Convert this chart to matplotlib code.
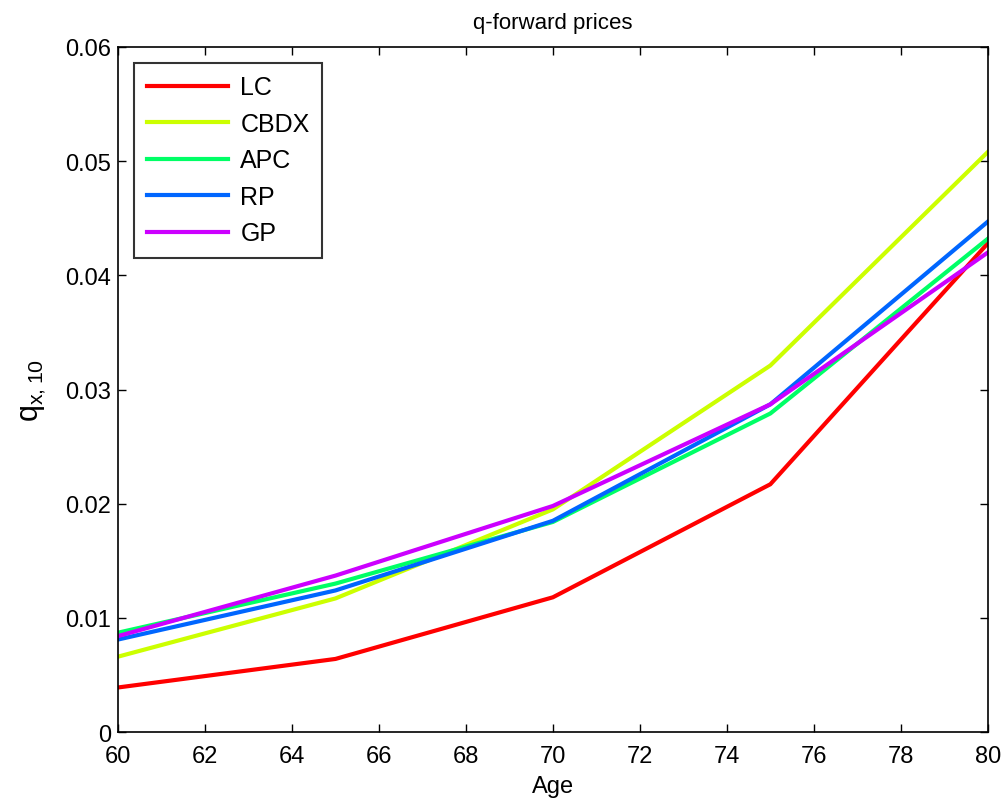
import matplotlib
matplotlib.use('Agg')
import matplotlib.pyplot as plt

plt.rcParams['font.family'] = ['Liberation Sans', 'DejaVu Sans']

# ages and 10-year q-forward prices for each model
ages = [60, 65, 70, 75, 80]
lc = [0.0039, 0.0064, 0.0118, 0.0217, 0.0428]
cbdx = [0.0066, 0.0117, 0.0195, 0.0321, 0.0508]
apc = [0.0087, 0.0130, 0.0184, 0.0279, 0.0432]
rp = [0.0081, 0.0124, 0.0185, 0.0287, 0.0447]
gp = [0.0084, 0.0137, 0.0198, 0.0287, 0.0420]

names = ['LC', 'CBDX', 'APC', 'RP', 'GP']
colours = [(1, 0, 0), (0.8, 1, 0), (0, 1, 0.4), (0, 0.4, 1), (0.8, 0, 1)]

fig = plt.figure(figsize=(10.02, 8.04), dpi=100)
ax = fig.add_axes([0.1178, 0.0883, 0.868, 0.852])

for ys, nm, c in zip([lc, cbdx, apc, rp, gp], names, colours):
    ax.plot(ages, ys, color=c, lw=3, label=nm)

ax.set_xlim(60, 80)
ax.set_ylim(0, 0.06)
ax.set_xticks(range(60, 81, 2))
ax.set_yticks([0, 0.01, 0.02, 0.03, 0.04, 0.05, 0.06])
ax.set_yticklabels(['0', '0.01', '0.02', '0.03', '0.04', '0.05', '0.06'])
ax.tick_params(direction='in', top=True, right=True, labelsize=17, length=6, width=1)
ax.tick_params(axis='x', pad=9)
ax.tick_params(axis='y', pad=5)
for s in ax.spines.values():
    s.set_linewidth(1.2)

ax.set_title('q-forward prices', fontsize=16, pad=14)
ax.set_xlabel('Age', fontsize=17, labelpad=6)
ax.set_ylabel('$\\mathregular{q_{x,10}}$', fontsize=22, labelpad=12)

leg = ax.legend(loc='upper left', fontsize=18, frameon=True, fancybox=False,
                edgecolor='black', handlelength=3.25, handletextpad=0.5,
                borderpad=0.5, labelspacing=0.5, borderaxespad=0,
                bbox_to_anchor=(0.0184, 0.977))
leg.get_frame().set_linewidth(1.5)

fig.savefig('out.png', dpi=100)
